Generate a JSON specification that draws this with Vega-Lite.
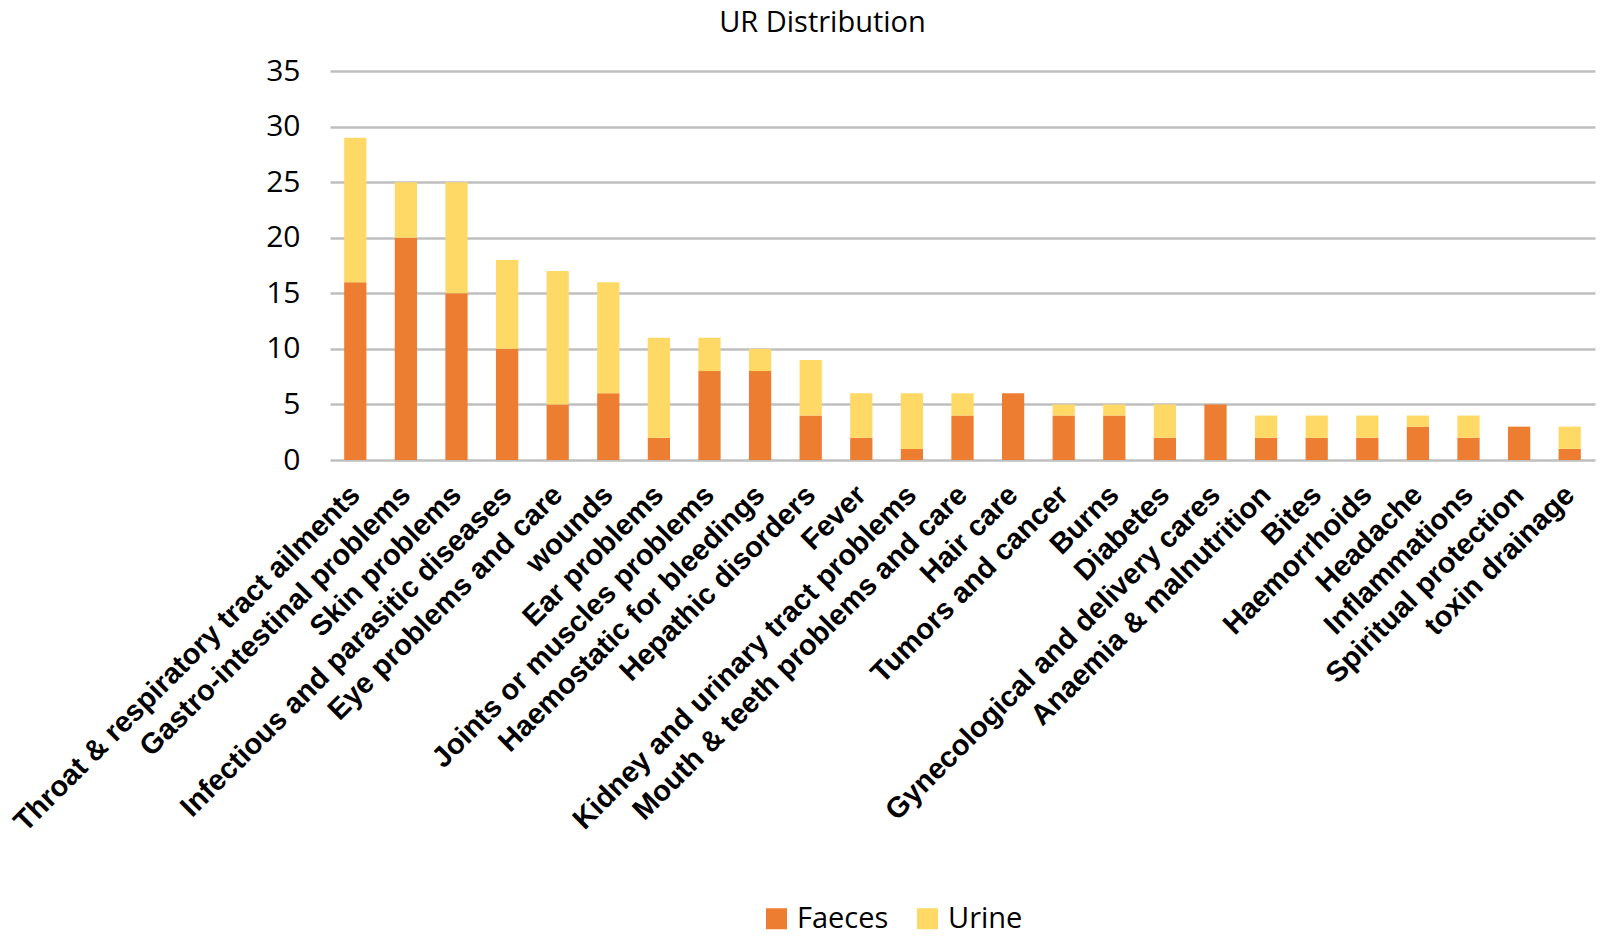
{
  "$schema": "https://vega.github.io/schema/vega-lite/v6.json",
  "width": 1265,
  "height": 389,
  "autosize": {"type": "none"},
  "padding": {"left": 330, "top": 71, "right": 5, "bottom": 477},
  "background": "white",
  "title": {"text": "UR  Distribution", "fontSize": 29, "font": "Open Sans", "fontWeight": "normal", "color": "#000000", "anchor": "middle", "offset": 18, "dx": -140},
  "data": {"values": [
    {"ailment": "Throat & respiratory tract ailments", "source": "Faeces", "n": 16},
    {"ailment": "Throat & respiratory tract ailments", "source": "Urine", "n": 13},
    {"ailment": "Gastro-intestinal problems", "source": "Faeces", "n": 20},
    {"ailment": "Gastro-intestinal problems", "source": "Urine", "n": 5},
    {"ailment": "Skin problems", "source": "Faeces", "n": 15},
    {"ailment": "Skin problems", "source": "Urine", "n": 10},
    {"ailment": "Infectious and parasitic diseases", "source": "Faeces", "n": 10},
    {"ailment": "Infectious and parasitic diseases", "source": "Urine", "n": 8},
    {"ailment": "Eye problems and care", "source": "Faeces", "n": 5},
    {"ailment": "Eye problems and care", "source": "Urine", "n": 12},
    {"ailment": "wounds", "source": "Faeces", "n": 6},
    {"ailment": "wounds", "source": "Urine", "n": 10},
    {"ailment": "Ear problems", "source": "Faeces", "n": 2},
    {"ailment": "Ear problems", "source": "Urine", "n": 9},
    {"ailment": "Joints or muscles problems", "source": "Faeces", "n": 8},
    {"ailment": "Joints or muscles problems", "source": "Urine", "n": 3},
    {"ailment": "Haemostatic for bleedings", "source": "Faeces", "n": 8},
    {"ailment": "Haemostatic for bleedings", "source": "Urine", "n": 2},
    {"ailment": "Hepathic disorders", "source": "Faeces", "n": 4},
    {"ailment": "Hepathic disorders", "source": "Urine", "n": 5},
    {"ailment": "Fever", "source": "Faeces", "n": 2},
    {"ailment": "Fever", "source": "Urine", "n": 4},
    {"ailment": "Kidney and urinary tract problems", "source": "Faeces", "n": 1},
    {"ailment": "Kidney and urinary tract problems", "source": "Urine", "n": 5},
    {"ailment": "Mouth & teeth problems and care", "source": "Faeces", "n": 4},
    {"ailment": "Mouth & teeth problems and care", "source": "Urine", "n": 2},
    {"ailment": "Hair care", "source": "Faeces", "n": 6},
    {"ailment": "Hair care", "source": "Urine", "n": 0},
    {"ailment": "Tumors and cancer", "source": "Faeces", "n": 4},
    {"ailment": "Tumors and cancer", "source": "Urine", "n": 1},
    {"ailment": "Burns", "source": "Faeces", "n": 4},
    {"ailment": "Burns", "source": "Urine", "n": 1},
    {"ailment": "Diabetes", "source": "Faeces", "n": 2},
    {"ailment": "Diabetes", "source": "Urine", "n": 3},
    {"ailment": "Gynecological and delivery cares", "source": "Faeces", "n": 5},
    {"ailment": "Gynecological and delivery cares", "source": "Urine", "n": 0},
    {"ailment": "Anaemia & malnutrition", "source": "Faeces", "n": 2},
    {"ailment": "Anaemia & malnutrition", "source": "Urine", "n": 2},
    {"ailment": "Bites", "source": "Faeces", "n": 2},
    {"ailment": "Bites", "source": "Urine", "n": 2},
    {"ailment": "Haemorrhoids", "source": "Faeces", "n": 2},
    {"ailment": "Haemorrhoids", "source": "Urine", "n": 2},
    {"ailment": "Headache", "source": "Faeces", "n": 3},
    {"ailment": "Headache", "source": "Urine", "n": 1},
    {"ailment": "Inflammations", "source": "Faeces", "n": 2},
    {"ailment": "Inflammations", "source": "Urine", "n": 2},
    {"ailment": "Spiritual protection", "source": "Faeces", "n": 3},
    {"ailment": "Spiritual protection", "source": "Urine", "n": 0},
    {"ailment": "toxin drainage", "source": "Faeces", "n": 1},
    {"ailment": "toxin drainage", "source": "Urine", "n": 2}
  ]},
  "mark": {"type": "bar"},
  "encoding": {
    "x": {
      "field": "ailment", "type": "nominal", "sort": null, "title": null,
      "scale": {"paddingInner": 0.56, "paddingOuter": 0.28},
      "axis": {
        "labelAngle": -45, "labelAlign": "right", "labelBaseline": "middle",
        "labelFont": "Liberation Sans", "labelFontWeight": "bold", "labelFontSize": 29,
        "labelColor": "#000000", "labelPadding": 30, "labelLimit": 0,
        "ticks": false, "domain": false, "grid": false
      }
    },
    "y": {
      "field": "n", "type": "quantitative", "stack": "zero", "title": null,
      "scale": {"domain": [0, 35]},
      "axis": {
        "values": [0, 5, 10, 15, 20, 25, 30, 35],
        "labelFont": "Open Sans", "labelFontSize": 30, "labelColor": "#000000",
        "labelPadding": 30, "ticks": false, "domain": false,
        "grid": true, "gridColor": "#BFBFBF", "gridWidth": 2.5
      }
    },
    "color": {
      "field": "source", "type": "nominal",
      "scale": {"domain": ["Faeces", "Urine"], "range": ["#ED7D31", "#FFD966"]},
      "legend": {
        "title": null, "orient": "none", "direction": "horizontal",
        "legendX": 432, "legendY": 833,
        "symbolType": "square", "symbolSize": 441, "symbolStrokeWidth": 0,
        "labelFont": "Open Sans", "labelFontSize": 29, "labelColor": "#000000",
        "columnPadding": 24, "labelOffset": 6
      }
    },
    "order": {"field": "source", "sort": "ascending"}
  },
  "config": {"view": {"stroke": null}}
}
